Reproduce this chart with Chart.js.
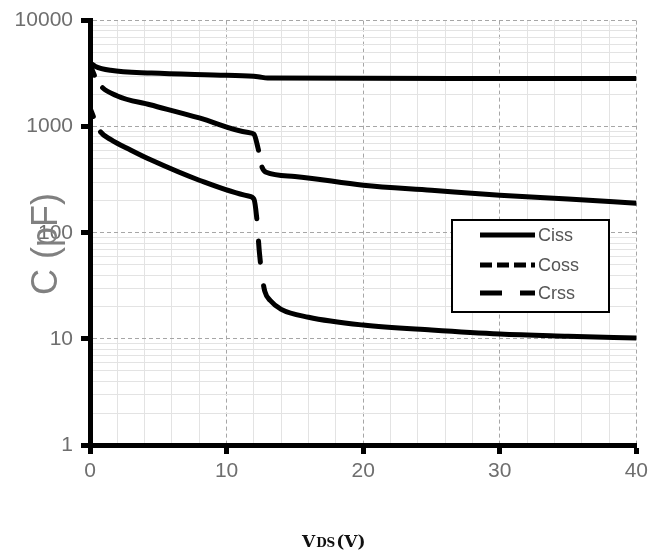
<!DOCTYPE html>
<html lang="en">
<head>
  <meta charset="UTF-8">
  <title>Capacitance vs VDS</title>
  <script src="https://cdn.jsdelivr.net/npm/chart.js"></script>
  <style>
    body { margin: 0; background: #fff; }
    #wrap { position: relative; width: 653px; height: 556px; }
  </style>
</head>
<body>
  <div id="wrap"><canvas id="capChart"></canvas></div>

  <script>
    // VDS (V) and capacitance (pF)
    const cissV = [0, 0.4, 1.5, 4.5, 10, 12.3, 13, 20, 30, 40];
    const cissC = [4000, 3700, 3400, 3200, 3050, 2960, 2870, 2860, 2850, 2840];

    const cossV = [0, 0.3, 0.7, 2, 4.4, 8, 11.6, 12, 12.3, 12.6, 12.9, 15, 20, 25, 30, 35, 40];
    const cossC = [3900, 3100, 2500, 1950, 1610, 1210, 880, 850, 630, 414, 372, 340, 281, 252, 226, 208, 190];

    const crssV = [0, 0.3, 0.7, 1.5, 3, 4.4, 8, 11.6, 12, 12.2, 12.4, 12.6, 12.8, 13.2, 14, 16, 20, 25, 30, 35, 40];
    const crssC = [1500, 1200, 920, 760, 600, 490, 313, 222, 208, 141, 66, 39, 28, 23, 19, 16, 13.5, 12.1, 11.1, 10.6, 10.2];

    const yLabels = [1, 10, 100, 1000, 10000];
    const xLabels = [0, 10, 20, 30, 40];

    const seriesNames = ['Ciss', 'Coss', 'Crss'];
    const legendDash = [[], [12, 5], [22, 18]];

    function pts(xs, ys) {
      return xs.map((v, i) => ({ x: v, y: ys[i] }));
    }

    const tickFont = { family: 'Liberation Sans', size: 21 };
    const tickGrey = '#6e6e6e';

    // titles + legend box drawn on top
    const extras = {
      id: 'extras',
      afterDraw(chart) {
        const ctx = chart.ctx;
        ctx.save();
        // y title
        ctx.translate(47, 244);
        ctx.rotate(-Math.PI / 2);
        ctx.font = '36px "Liberation Sans"';
        ctx.fillStyle = '#808080';
        ctx.textAlign = 'center';
        ctx.textBaseline = 'middle';
        ctx.fillText('C (pF)', 0, 0);
        ctx.restore();

        // x title
        ctx.save();
        ctx.fillStyle = '#111';
        ctx.textBaseline = 'alphabetic';
        let x = 302;
        const base = 547;
        const parts = [['V', 'bold 17px "DejaVu Serif"'], ['DS', 'bold 12px "DejaVu Serif"'], ['(V)', 'bold 17px "DejaVu Serif"']];
        parts.forEach(p => {
          ctx.font = p[1];
          ctx.fillText(p[0], x, base);
          x += ctx.measureText(p[0]).width + 1;
        });
        ctx.restore();

        // legend
        ctx.save();
        ctx.fillStyle = '#fff';
        ctx.fillRect(452, 220, 157, 92);
        ctx.strokeStyle = '#000';
        ctx.lineWidth = 2;
        ctx.strokeRect(452, 220, 157, 92);
        const rows = [235, 265, 293];
        seriesNames.forEach((name, i) => {
          ctx.beginPath();
          ctx.setLineDash(legendDash[i]);
          ctx.lineWidth = 5;
          ctx.lineCap = 'butt';
          ctx.moveTo(480, rows[i]);
          ctx.lineTo(535, rows[i]);
          ctx.stroke();
          ctx.setLineDash([]);
          ctx.font = '18px "Liberation Sans"';
          ctx.fillStyle = '#555';
          ctx.textBaseline = 'middle';
          ctx.fillText(name, 538, rows[i] + 1);
        });
        ctx.restore();
      }
    };

    new Chart(document.getElementById('capChart'), {
      type: 'line',
      data: {
        datasets: [
          {
            label: 'Ciss',
            data: pts(cissV, cissC),
            borderColor: '#000',
            borderWidth: 5,
            pointRadius: 0,
            cubicInterpolationMode: 'monotone',
            fill: false
          },
          {
            label: 'Coss',
            data: pts(cossV, cossC),
            borderColor: '#000',
            borderWidth: 5,
            borderCapStyle: 'round',
            borderDash: [12, 15, 176, 17, 4000, 0],
            pointRadius: 0,
            cubicInterpolationMode: 'monotone',
            fill: false
          },
          {
            label: 'Crss',
            data: pts(crssV, crssC),
            borderColor: '#000',
            borderWidth: 5,
            borderCapStyle: 'round',
            borderDash: [9, 17, 189, 22, 21, 24, 4000, 0],
            pointRadius: 0,
            cubicInterpolationMode: 'monotone',
            fill: false
          }
        ]
      },
      options: {
        responsive: true,
        maintainAspectRatio: false,
        animation: false,
        layout: { autoPadding: false, padding: { top: 17, right: 13, left: 0, bottom: 0 } },
        plugins: { legend: { display: false }, tooltip: { enabled: false } },
        scales: {
          x: {
            type: 'linear',
            min: 0,
            max: 40,
            afterBuildTicks: s => {
              const t = [];
              for (let v = 0; v <= 40; v += 2) t.push({ value: v });
              s.ticks = t;
            },
            afterFit: s => { s.height = 111; },
            ticks: {
              autoSkip: false,
              maxRotation: 0,
              padding: 5,
              color: tickGrey,
              font: tickFont,
              callback: v => xLabels.includes(v) ? String(v) : ''
            },
            grid: {
              color: c => c.tick && xLabels.includes(c.tick.value) ? '#a6a6a6' : '#e3e3e3',
              lineWidth: 1,
              tickLength: 9,
              tickWidth: 5,
              tickColor: c => c.tick && xLabels.includes(c.tick.value) ? '#000' : 'rgba(0,0,0,0)'
            },
            border: {
              color: '#000',
              width: 5,
              dash: c => c.tick && xLabels.includes(c.tick.value) ? [4, 3] : []
            }
          },
          y: {
            type: 'logarithmic',
            min: 1,
            max: 10000,
            afterBuildTicks: s => {
              const t = [];
              for (let d = 1; d < 10000; d *= 10) {
                for (let k = 1; k < 10; k++) t.push({ value: k * d });
              }
              t.push({ value: 10000 });
              s.ticks = t;
            },
            afterFit: s => { s.width = 90; },
            ticks: {
              autoSkip: false,
              padding: 8,
              color: tickGrey,
              font: tickFont,
              callback: v => yLabels.includes(v) ? String(v) : ''
            },
            grid: {
              color: c => c.tick && yLabels.includes(c.tick.value) ? '#a6a6a6' : '#e3e3e3',
              lineWidth: 1,
              tickLength: 9,
              tickWidth: 5,
              tickColor: c => c.tick && yLabels.includes(c.tick.value) ? '#000' : 'rgba(0,0,0,0)'
            },
            border: {
              color: '#000',
              width: 5,
              dash: c => c.tick && yLabels.includes(c.tick.value) ? [4, 3] : []
            }
          }
        }
      },
      plugins: [extras]
    });
  </script>
</body>
</html>
